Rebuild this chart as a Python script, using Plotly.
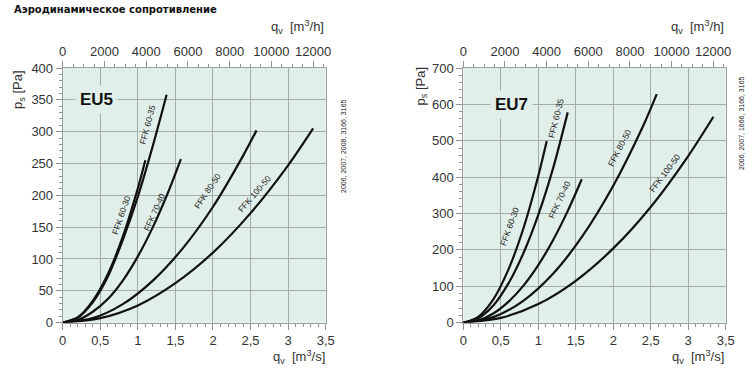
import plotly.graph_objects as go

# ---------------- data ----------------
# EU5 (left panel): q [m3/s], ps [Pa]
eu5_6030_q = [0, 0.2, 0.4, 0.6, 0.8, 1.0, 1.1]
eu5_6030_p = [0, 8, 34, 76, 135, 211, 255]
eu5_6035_q = [0, 0.2, 0.4, 0.6, 0.8, 1.0, 1.2, 1.383]
eu5_6035_p = [0, 8, 32, 72, 130, 198, 278, 358]
eu5_7040_q = [0, 0.2, 0.4, 0.6, 0.8, 1.0, 1.2, 1.4, 1.573]
eu5_7040_p = [0, 4, 17, 37, 66, 104, 150, 204, 257]
eu5_8050_q = [0, 0.4, 0.8, 1.2, 1.6, 2.0, 2.4, 2.58]
eu5_8050_p = [0, 7, 29, 66, 117, 182, 262, 302]
eu5_10050_q = [0, 0.5, 1.0, 1.5, 2.0, 2.5, 3.0, 3.333]
eu5_10050_p = [0, 7, 27, 62, 110, 172, 247, 305]

# EU7 (right panel)
eu7_6030_q = [0, 0.2, 0.4, 0.6, 0.8, 1.0, 1.113]
eu7_6030_p = [0, 16, 64, 145, 258, 403, 499]
eu7_6035_q = [0, 0.2, 0.4, 0.6, 0.8, 1.0, 1.2, 1.393]
eu7_6035_p = [0, 12, 47, 107, 190, 296, 426, 578]
eu7_7040_q = [0, 0.2, 0.4, 0.6, 0.8, 1.0, 1.2, 1.4, 1.58]
eu7_7040_p = [0, 6, 25, 57, 101, 158, 228, 310, 394]
eu7_8050_q = [0, 0.4, 0.8, 1.2, 1.6, 2.0, 2.4, 2.58]
eu7_8050_p = [0, 15, 60, 135, 241, 376, 541, 628]
eu7_10050_q = [0, 0.5, 1.0, 1.5, 2.0, 2.5, 3.0, 3.336]
eu7_10050_p = [0, 13, 51, 115, 204, 318, 458, 566]

x_tickvals = [0, 0.5, 1, 1.5, 2, 2.5, 3, 3.5]
x_ticktext = ["0", "0,5", "1", "1,5", "2", "2,5", "3", "3,5"]
top_tickvals = [0, 2000, 4000, 6000, 8000, 10000, 12000]
top_ticktext = ["0", "2000", "4000", "6000", "8000", "10000", "12000"]

curve_names = ["FFK 60-30", "FFK 60-35", "FFK 70-40", "FFK 80-50", "FFK 100-50"]
eu5_curves = [(eu5_6030_q, eu5_6030_p), (eu5_6035_q, eu5_6035_p), (eu5_7040_q, eu5_7040_p),
              (eu5_8050_q, eu5_8050_p), (eu5_10050_q, eu5_10050_p)]
eu7_curves = [(eu7_6030_q, eu7_6030_p), (eu7_6035_q, eu7_6035_p), (eu7_7040_q, eu7_7040_p),
              (eu7_8050_q, eu7_8050_p), (eu7_10050_q, eu7_10050_p)]

# label placements (data coords) and angles
eu5_labels = [(0.78, 169, -71), (1.13, 310, -75), (1.22, 174, -66), (1.93, 206, -56), (2.55, 202, -49)]
eu7_labels = [(0.617, 262, -70), (1.24, 562, -76), (1.285, 336, -65), (2.085, 479, -62), (2.686, 412, -53)]

# ---------------- styles ----------------
FONT = "Liberation Sans, Arial, sans-serif"
BG = "#e1efea"
GRID = "#a4acaa"
AXLINE = "#9a9f9d"
TICKC = "#8f9492"
TXT = "#333333"
LINE = "#111111"

W, H = 755, 378
def px_x(v):
    return v / W
def px_y(v):
    return 1 - v / H

y_dom = [px_y(322.6), px_y(68.0)]
dom_left = [px_x(62.7), px_x(325.7)]
dom_right = [px_x(463.3), px_x(725.7)]

fig = go.Figure()

for (q, p) in eu5_curves:
    fig.add_trace(go.Scatter(x=q, y=p, mode="lines", line=dict(color=LINE, width=2.2, shape="spline", smoothing=0.8),
                             xaxis="x", yaxis="y", showlegend=False, hoverinfo="skip"))
for (q, p) in eu7_curves:
    fig.add_trace(go.Scatter(x=q, y=p, mode="lines", line=dict(color=LINE, width=2.2, shape="spline", smoothing=0.8),
                             xaxis="x3", yaxis="y2", showlegend=False, hoverinfo="skip"))
# invisible traces to bind the top axes
fig.add_trace(go.Scatter(x=[0, 12600], y=[None, None], mode="lines", xaxis="x2", yaxis="y",
                         showlegend=False, hoverinfo="skip"))
fig.add_trace(go.Scatter(x=[0, 12600], y=[None, None], mode="lines", xaxis="x4", yaxis="y2",
                         showlegend=False, hoverinfo="skip"))

tickfont = dict(family=FONT, size=13, color=TXT)

def bottom_axis(domain, anchor):
    return dict(domain=domain, anchor=anchor, range=[0, 3.5], tickvals=x_tickvals, ticktext=x_ticktext,
                showgrid=True, gridcolor=GRID, gridwidth=1, showline=True, linecolor=AXLINE, linewidth=1,
                ticks="outside", ticklen=6, tickcolor=TICKC, tickfont=tickfont, zeroline=False,
                minor=dict(dtick=0.1, ticks="outside", ticklen=3, tickcolor=TICKC, showgrid=False),
                fixedrange=True, automargin=False)

def top_axis(overlay, anchor):
    return dict(overlaying=overlay, anchor=anchor, side="top", range=[0, 12600], tickvals=top_tickvals,
                ticktext=top_ticktext, showgrid=False, showline=True, linecolor=AXLINE, linewidth=1,
                ticks="outside", ticklen=6, tickcolor=TICKC, tickfont=tickfont, zeroline=False,
                minor=dict(dtick=500, ticks="outside", ticklen=3, tickcolor=TICKC, showgrid=False),
                fixedrange=True, automargin=False)

def left_axis(anchor, rng, dt, mdt):
    return dict(domain=y_dom, anchor=anchor, range=rng, dtick=dt, showgrid=True, gridcolor=GRID, gridwidth=1,
                showline=True, linecolor=AXLINE, linewidth=1, mirror=True, ticks="outside", ticklen=6,
                tickcolor=TICKC, tickfont=tickfont, zeroline=False,
                minor=dict(dtick=mdt, ticks="outside", ticklen=3, tickcolor=TICKC, showgrid=False),
                fixedrange=True, automargin=False)

fig.update_layout(
    width=W, height=H, margin=dict(l=0, r=0, t=0, b=0, autoexpand=False),
    paper_bgcolor="white", plot_bgcolor=BG,
    xaxis=bottom_axis(dom_left, "y"),
    xaxis2=top_axis("x", "y"),
    xaxis3=bottom_axis(dom_right, "y2"),
    xaxis4=top_axis("x3", "y2"),
    yaxis=left_axis("x", [0, 400], 50, 10),
    yaxis2=left_axis("x3", [0, 700], 100, 20),
)

ann = []
# curve labels
for name, (qx, py, ang) in zip(curve_names, eu5_labels):
    ann.append(dict(x=qx, y=py, xref="x", yref="y", text=name, textangle=ang, showarrow=False,
                    font=dict(family=FONT, size=8.5, color="#222")))
for name, (qx, py, ang) in zip(curve_names, eu7_labels):
    ann.append(dict(x=qx, y=py, xref="x3", yref="y2", text=name, textangle=ang, showarrow=False,
                    font=dict(family=FONT, size=8.5, color="#222")))
# panel tags
ann.append(dict(x=0.452, y=350, xref="x", yref="y", text="<b>EU5</b>", showarrow=False, bgcolor=BG,
                font=dict(family=FONT, size=17, color="#111"), borderpad=4))
ann.append(dict(x=0.646, y=600, xref="x3", yref="y2", text="<b>EU7</b>", showarrow=False, bgcolor=BG,
                font=dict(family=FONT, size=17, color="#111"), borderpad=4))
# page title
ann.append(dict(x=px_x(12), y=px_y(9), xref="paper", yref="paper", xanchor="left", yanchor="middle",
                text="<b>Аэродинамическое сопротивление</b>", showarrow=False,
                font=dict(family="DejaVu Sans, sans-serif", size=10, color="#111")))
# axis titles
for xr, yt, top_title_x, bot_title_x in [(18, 90, 326, 327), (421.5, 86, 726, 726)]:
    ann.append(dict(x=px_x(xr), y=px_y(yt), xref="paper", yref="paper", text="p<sub>s</sub> [Pa]",
                    textangle=-90, showarrow=False, xanchor="center", yanchor="middle",
                    font=dict(family=FONT, size=13, color=TXT)))
    ann.append(dict(x=px_x(top_title_x), y=px_y(27), xref="paper", yref="paper",
                    text="q<sub>v</sub>  [m<sup>3</sup>/h]", showarrow=False, xanchor="right", yanchor="middle",
                    font=dict(family=FONT, size=13, color=TXT)))
    ann.append(dict(x=px_x(bot_title_x), y=px_y(357), xref="paper", yref="paper",
                    text="q<sub>v</sub>  [m<sup>3</sup>/s]", showarrow=False, xanchor="right", yanchor="middle",
                    font=dict(family=FONT, size=13, color=TXT)))
# side codes
ann.append(dict(x=px_x(343), y=px_y(146), xref="paper", yref="paper", text="2006, 2007, 2008, 3166, 3165",
                textangle=-90, showarrow=False, xanchor="center", yanchor="middle",
                font=dict(family=FONT, size=7, color="#222")))
ann.append(dict(x=px_x(742), y=px_y(123), xref="paper", yref="paper", text="2006, 2007, 1666, 3166, 3165",
                textangle=-90, showarrow=False, xanchor="center", yanchor="middle",
                font=dict(family=FONT, size=7, color="#222")))

fig.update_layout(annotations=ann)
fig.write_html("out.html",
               config={"displayModeBar": False, "staticPlot": True},
               post_script="document.body.style.margin='0';document.body.style.padding='0';")
